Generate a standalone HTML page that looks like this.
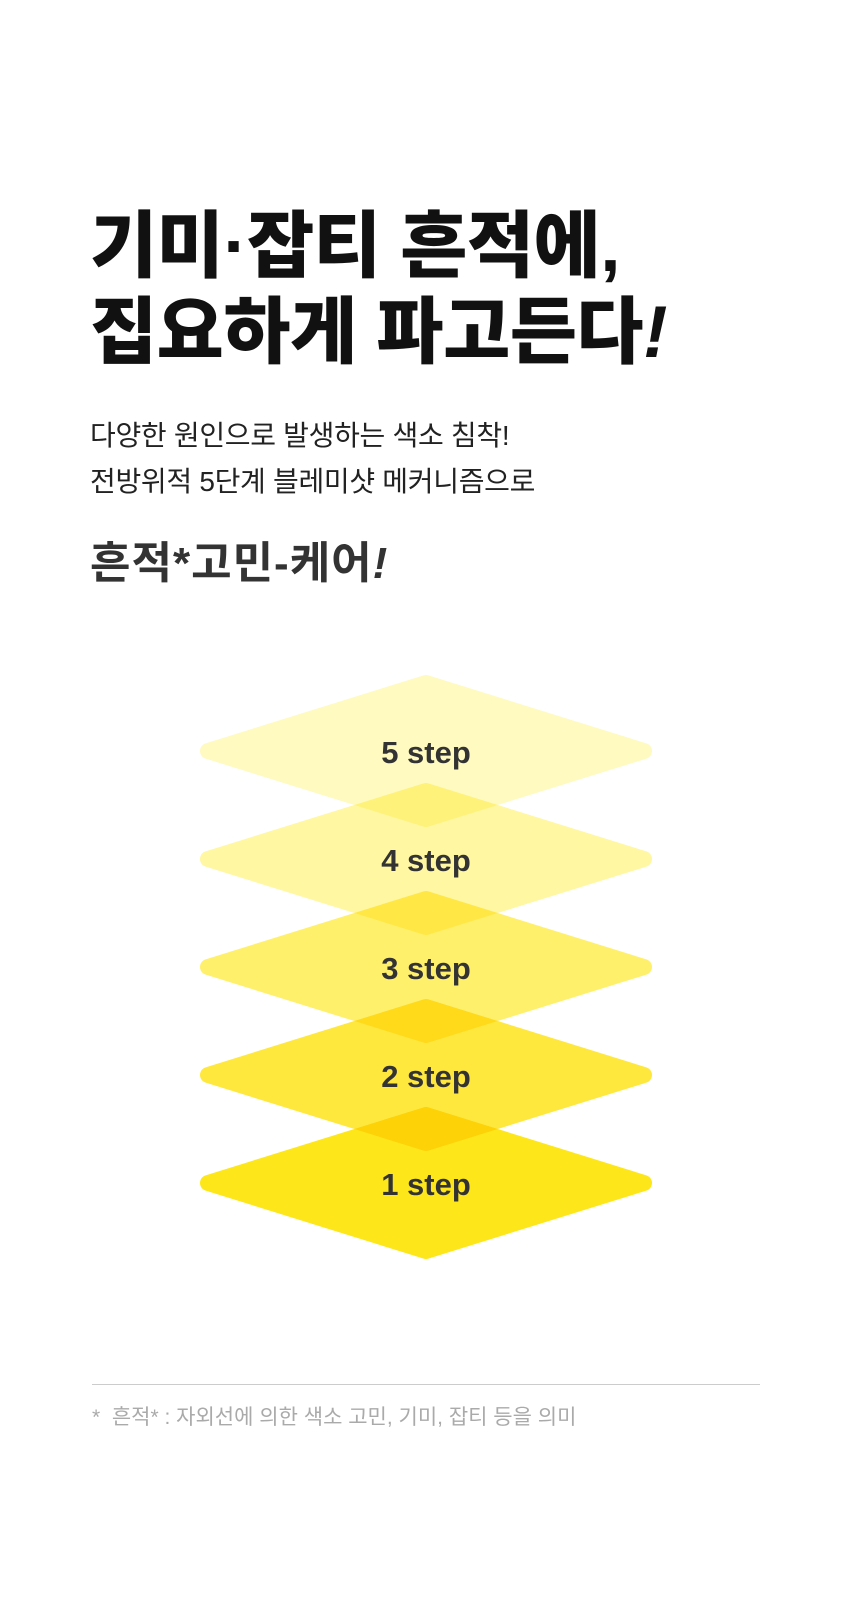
<!DOCTYPE html>
<html><head><meta charset="utf-8"><style>
body{margin:0;width:857px;height:1619px;background:#fff;position:relative;overflow:hidden;font-family:"Liberation Sans","Noto Sans CJK KR",sans-serif}
.t{position:absolute;left:90px;white-space:nowrap}
</style></head><body>
<div class="t" style="top:204px;font-size:73px;font-weight:900;color:#111;letter-spacing:-0.5px;line-height:86px">기미·잡티 흔적에,<br>집요하게 파고든다<i>!</i></div>
<div class="t" style="top:413px;font-size:28px;color:#222;line-height:46px;letter-spacing:-0.3px">다양한 원인으로 발생하는 색소 침착!<br>전방위적 5단계 블레미샷 메커니즘으로</div>
<div class="t" style="top:527px;font-size:44px;font-weight:700;color:#333;letter-spacing:1px">흔적*고민-케어<i>!</i></div>
<svg style="position:absolute;left:0;top:0" width="857" height="1619">
<g stroke-linejoin="round" stroke-width="16">
<polygon points="426,1115 644,1183 426,1251 208,1183" fill="#fde71a" stroke="#fde71a" style="mix-blend-mode:multiply"/>
<polygon points="426,1007 644,1075 426,1143 208,1075" fill="#ffe83e" stroke="#ffe83e" style="mix-blend-mode:multiply"/>
<polygon points="426,899 644,967 426,1035 208,967" fill="#fff06c" stroke="#fff06c" style="mix-blend-mode:multiply"/>
<polygon points="426,791 644,859 426,927 208,859" fill="#fff7a2" stroke="#fff7a2" style="mix-blend-mode:multiply"/>
<polygon points="426,683 644,751 426,819 208,751" fill="#fffac0" stroke="#fffac0" style="mix-blend-mode:multiply"/>
</g>
<g font-family="Liberation Sans,sans-serif" font-weight="700" font-size="31" fill="#333" text-anchor="middle">
<text x="426" y="763">5 step</text><text x="426" y="871">4 step</text><text x="426" y="979">3 step</text><text x="426" y="1087">2 step</text><text x="426" y="1195">1 step</text>
</g>
<line x1="92" y1="1384.5" x2="760" y2="1384.5" stroke="#ccc" stroke-width="1"/>
</svg>
<div class="t" style="left:92px;top:1401px;font-size:21px;color:#aaa">*&nbsp; 흔적* : 자외선에 의한 색소 고민, 기미, 잡티 등을 의미</div>
</body></html>
